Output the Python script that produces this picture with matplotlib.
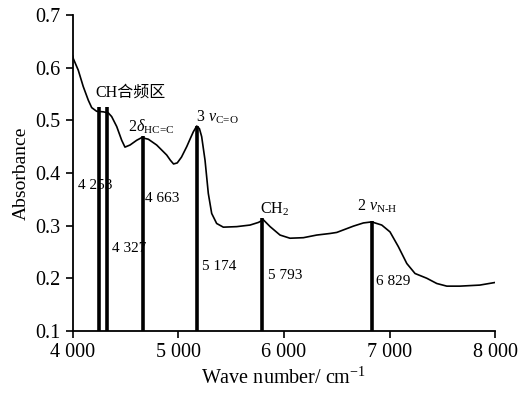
import numpy as np
import matplotlib
matplotlib.use("Agg")
import matplotlib.pyplot as plt

plt.rcParams['font.family'] = ['Liberation Serif', 'Noto Sans CJK SC']
plt.rcParams['mathtext.fontset'] = 'custom'
plt.rcParams['mathtext.rm'] = 'Liberation Serif'
plt.rcParams['mathtext.it'] = 'Liberation Serif:italic'

# spectrum
wave = [4000, 4006, 4053, 4100, 4148, 4180, 4227, 4290, 4337, 4369, 4417, 4464,
        4495, 4543, 4606, 4653, 4716, 4795, 4890, 4925, 4955, 4990, 5030, 5080,
        5115, 5142, 5174, 5200, 5221, 5253, 5284, 5316, 5363, 5426, 5553, 5679,
        5758, 5805, 5869, 5963, 6057, 6184, 6310, 6436, 6500, 6658, 6752, 6831,
        6926, 7004, 7083, 7163, 7241, 7352, 7447, 7542, 7665, 7854, 8000]
absorb = [0.622, 0.617, 0.595, 0.564, 0.538, 0.524, 0.517, 0.516, 0.514, 0.507, 0.488, 0.462,
          0.449, 0.453, 0.462, 0.467, 0.464, 0.453, 0.434, 0.424, 0.417, 0.419, 0.430, 0.450,
          0.466, 0.478, 0.489, 0.484, 0.469, 0.424, 0.361, 0.323, 0.304, 0.297, 0.298, 0.301,
          0.306, 0.311, 0.298, 0.282, 0.276, 0.277, 0.282, 0.285, 0.287, 0.299, 0.305, 0.307,
          0.301, 0.288, 0.260, 0.228, 0.209, 0.200, 0.190, 0.185, 0.185, 0.187, 0.192]

peaks = [4253, 4327, 4663, 5174, 5793, 6829]
peak_tops = [0.525, 0.525, 0.470, 0.490, 0.314, 0.308]
peak_labels = ['4 253', '4 327', '4 663', '5 174', '5 793', '6 829']
label_pos = [(4050, 0.377), (4369, 0.257), (4686, 0.352), (5221, 0.222), (5852, 0.206), (6872, 0.194)]

bands = ['CH合频区', r'$2\delta_{\mathrm{HC\!=\!C}}$', r'3 $\nu_{\mathrm{C\!=\!O}}$', r'CH$_2$', r'2 $\nu_{\mathrm{N\text{-}H}}$']
band_pos = [(4211, 0.553), (4524, 0.487), (5167, 0.506), (5773, 0.330), (6692, 0.336)]

xticks = [4000, 5000, 6000, 7000, 8000]
xtick_labels = ['4 000', '5 000', '6 000', '7 000', '8 000']
yticks = [0.1, 0.2, 0.3, 0.4, 0.5, 0.6, 0.7]

fig = plt.figure(figsize=(5.21, 3.93), dpi=100)
ax = fig.add_axes([0.1395, 0.158, 0.811, 0.804])

ax.plot(wave, absorb, color='black', lw=1.2)
ax.vlines(peaks, 0.1, peak_tops, color='black', lw=2.6)

for lab, (x, y) in zip(peak_labels, label_pos):
    ax.text(x, y, lab, fontsize=11, ha='left', va='center')
for lab, (x, y) in zip(bands, band_pos):
    ax.text(x, y, lab, fontsize=11.5, ha='left', va='center')

ax.set_xlim(4000, 8000)
ax.set_ylim(0.1, 0.7)
ax.set_xticks(xticks)
ax.set_xticklabels(xtick_labels)
ax.set_yticks(yticks)
ax.set_yticklabels(['%.1f' % v for v in yticks])
ax.tick_params(labelsize=14.5, direction='out', length=5, width=1.2)

ax.spines['top'].set_visible(False)
ax.spines['right'].set_visible(False)
ax.spines['left'].set_linewidth(1.3)
ax.spines['bottom'].set_linewidth(1.3)

ax.set_xlabel('Wave number/ cm$^{-1}$', fontsize=14.5)
ax.set_ylabel('Absorbance', fontsize=14)

plt.savefig('out.png', dpi=100)
